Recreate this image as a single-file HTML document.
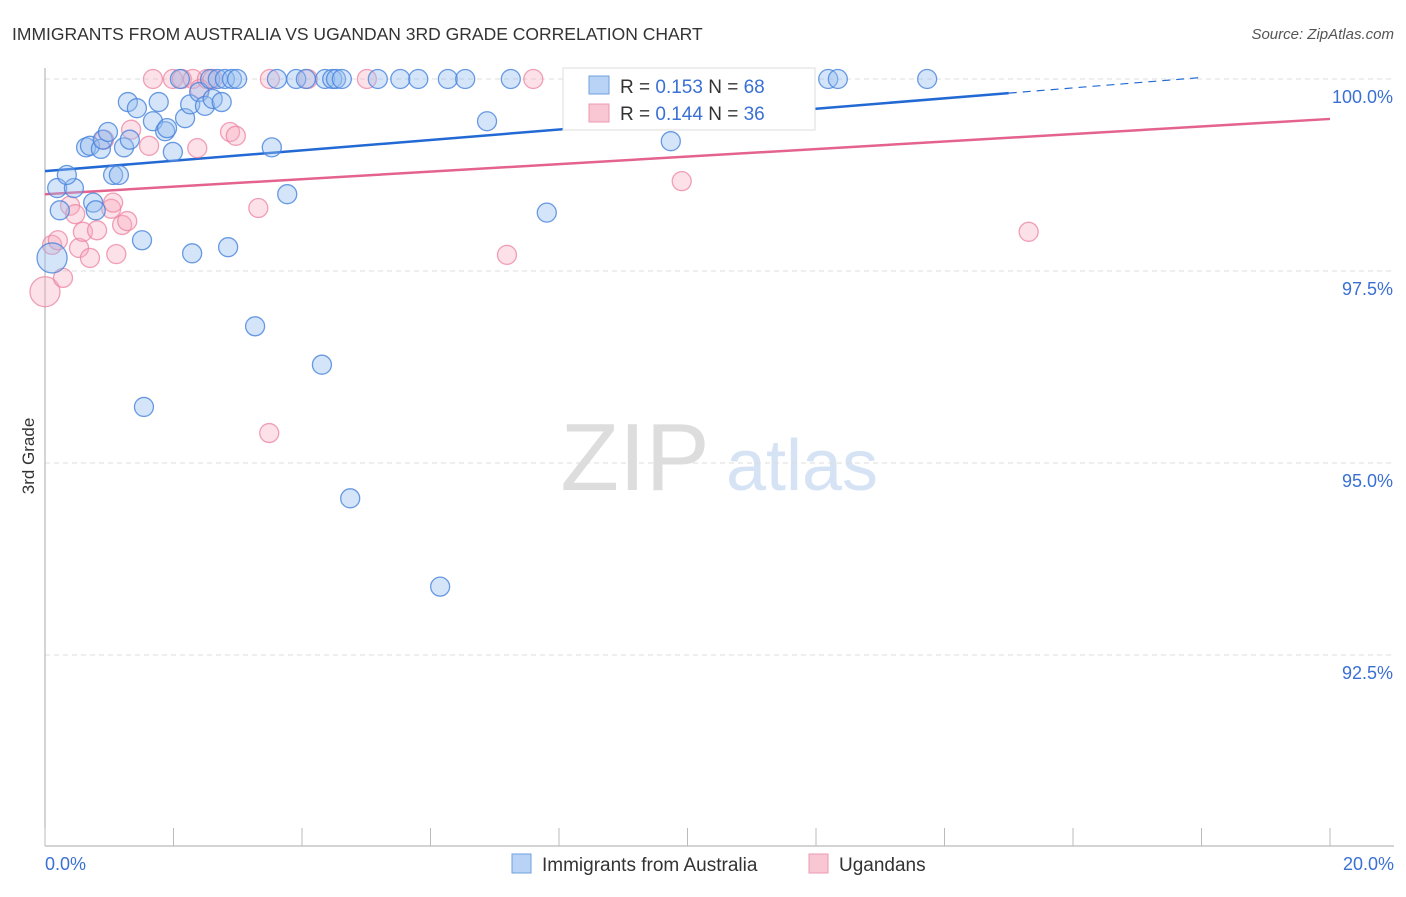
<!DOCTYPE html>
<html><head><meta charset="utf-8"><style>
body{margin:0;background:#fff;font-family:"Liberation Sans",sans-serif;}
svg text{font-family:"Liberation Sans",sans-serif;}
</style></head><body>
<svg id="c" width="1406" height="892">
<text x="12" y="40" font-size="17.5" fill="#333">IMMIGRANTS FROM AUSTRALIA VS UGANDAN 3RD GRADE CORRELATION CHART</text>
<text x="1394" y="39" font-size="15" fill="#555" text-anchor="end" font-style="italic">Source: ZipAtlas.com</text>
<text x="34" y="456" font-size="17" fill="#333" transform="rotate(-90 34 456)" text-anchor="middle">3rd Grade</text>
<g><text x="635" y="490" font-size="96" fill="#ddd" font-family="Liberation Serif" text-anchor="middle">ZIP</text><text x="802" y="490" font-size="72" fill="#d5e3f5" text-anchor="middle">atlas</text></g>
<g id="grid"></g><g id="axes"></g><g id="trend"></g><g id="pts"></g>
<g>
<rect x="563" y="68" width="252" height="62" fill="#fff" stroke="#ddd"/>
<rect x="589" y="76" width="20" height="18" fill="#b8d3f5" stroke="#6fa0e0"/>
<text x="620" y="93" font-size="19" fill="#333">R = <tspan fill="#3a70d4">0.153</tspan>   N = <tspan fill="#3a70d4">68</tspan></text>
<rect x="589" y="104" width="20" height="18" fill="#f9c6d4" stroke="#ec9ab2"/>
<text x="620" y="120" font-size="19" fill="#333">R = <tspan fill="#3a70d4">0.144</tspan>   N = <tspan fill="#3a70d4">36</tspan></text>
</g>
<g>
<rect x="512" y="854" width="19" height="19" fill="#b8d3f5" stroke="#6fa0e0"/>
<text x="542" y="871" font-size="19" fill="#333">Immigrants from Australia</text>
<rect x="809" y="854" width="19" height="19" fill="#f9c6d4" stroke="#ec9ab2"/>
<text x="839" y="871" font-size="19" fill="#333">Ugandans</text>
</g>
</svg>
<script>
const blueX=[0.11,0.19,0.45,0.23,0.34,0.64,0.70,0.87,0.75,0.79,0.90,0.98,1.06,1.15,1.23,1.32,1.29,1.43,1.51,1.54,1.68,1.77,1.87,1.90,1.99,2.10,2.18,2.26,2.29,2.40,2.49,2.57,2.61,2.69,2.75,2.85,2.80,2.91,2.99,3.27,3.53,3.61,3.77,3.91,4.06,4.31,4.36,4.47,4.53,4.62,4.75,5.18,5.53,5.81,6.15,6.27,6.54,6.88,7.25,7.81,9.74,12.19,12.34,13.73];
const blueY=[97.67,98.58,98.58,98.29,98.75,99.11,99.13,99.09,98.39,98.29,99.21,99.31,98.75,98.75,99.11,99.21,99.70,99.62,97.90,95.73,99.45,99.70,99.32,99.36,99.05,100,99.49,99.67,97.73,99.83,99.65,100,99.74,100,99.70,97.81,100,100,100,96.78,99.11,100,98.50,100,100,96.28,100,100,100,100,94.54,100,100,100,93.39,100,100,99.45,100,98.26,99.19,100,100,100];
const pinkX=[0.0,0.11,0.20,0.28,0.39,0.47,0.53,0.59,0.70,0.81,0.92,1.03,1.06,1.11,1.20,1.28,1.34,1.62,1.68,1.99,2.13,2.30,2.37,2.41,2.52,2.61,2.88,2.97,3.32,3.50,3.49,4.09,5.01,7.19,7.60,9.91,15.31];
const pinkY=[97.23,97.84,97.90,97.41,98.35,98.24,97.80,98.01,97.67,98.03,99.21,98.31,98.39,97.72,98.10,98.15,99.34,99.13,100,100,100,100,99.10,99.87,100,100,99.31,99.26,98.32,100,95.39,100,100,97.71,100,98.67,98.01];
const blueTrend=[98.80,100.155];
const pinkTrend=[98.50,99.48];
const yTicks=[100,97.5,95,92.5];
const yTickLabels=["100.0%","97.5%","95.0%","92.5%"];
const xTickVals=[0,2,4,6,8,10,12,14,16,18,20];
const X=v=>45+v*64.25, Y=v=>79+(100-v)*76.8;
const NS="http://www.w3.org/2000/svg";
function mk(t,p,a){const e=document.createElementNS(NS,t);for(const k in a)e.setAttribute(k,a[k]);p.appendChild(e);return e;}
const grid=document.getElementById('grid'),axes=document.getElementById('axes'),trend=document.getElementById('trend'),pts=document.getElementById('pts');
yTicks.forEach((v,i)=>{
const l=mk('line',grid,{x1:45,x2:1394,y1:Y(v),y2:Y(v),stroke:'#ddd','stroke-dasharray':'5,4'});


const t=mk('text',grid,{x:1393,y:Y(v)+24,'font-size':18,fill:'#3a70d4','text-anchor':'end'});t.textContent=yTickLabels[i];


});
const ya=mk('line',axes,{x1:45,x2:45,y1:68,y2:846,stroke:'#aaa'});


const xa=mk('line',axes,{x1:45,x2:1394,y1:846,y2:846,stroke:'#aaa'});


xTickVals.forEach(v=>{const t=mk('line',axes,{x1:X(v),x2:X(v),y1:828,y2:846,stroke:'#bbb'});

});
const x0=mk('text',axes,{x:45,y:870,'font-size':18,fill:'#3a70d4'});x0.textContent='0.0%';


const x1=mk('text',axes,{x:1394,y:870,'font-size':18,fill:'#3a70d4','text-anchor':'end'});x1.textContent='20.0%';


function pt(x,y,fill,stroke,name){const big=(x<0.15&&y<97.8);const c=mk('circle',pts,{cx:X(x),cy:Y(y),r:big?15:9.5,fill:fill,stroke:stroke,'stroke-width':1.3});

}
pinkX.forEach((x,i)=>pt(x,pinkY[i],'rgba(247,168,190,0.35)','rgba(236,130,160,0.75)','ugandans-point'));
blueX.forEach((x,i)=>pt(x,blueY[i],'rgba(150,190,240,0.4)','rgba(70,130,220,0.8)','australia-point'));
const bx=15.0, by=blueTrend[0]+(blueTrend[1]-blueTrend[0])*bx/20;
const bl=mk('line',trend,{x1:X(0),y1:Y(blueTrend[0]),x2:X(bx),y2:Y(by),stroke:'#2269d4','stroke-width':2.5});


const bxe=18.0, bye=blueTrend[0]+(blueTrend[1]-blueTrend[0])*bxe/20;
const bd=mk('line',trend,{x1:X(bx),y1:Y(by),x2:X(bxe),y2:Y(bye),stroke:'#2269d4','stroke-width':1.2,'stroke-dasharray':'8,6'});


const pl=mk('line',trend,{x1:X(0),y1:Y(pinkTrend[0]),x2:X(20),y2:Y(pinkTrend[1]),stroke:'#e4628e','stroke-width':2.5});


</script>
</body></html>
